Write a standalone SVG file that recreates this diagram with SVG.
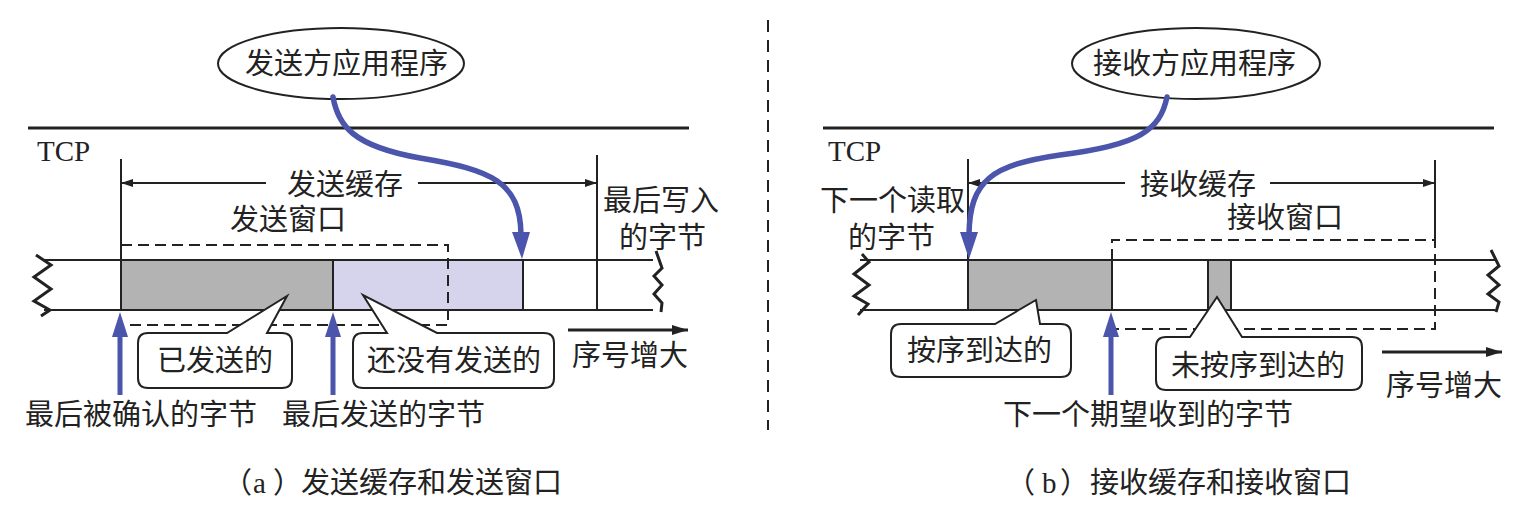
<svg xmlns="http://www.w3.org/2000/svg" width="1525" height="517" viewBox="0 0 1525 517">
<defs>
<style>
text{font-family:"Liberation Serif","Noto Sans CJK SC",serif;font-size:29px;fill:#222}
.ln{stroke:#222;stroke-width:2;fill:none}
.thick{stroke:#222;stroke-width:3;fill:none}
.dash{stroke:#222;stroke-width:2;fill:none;stroke-dasharray:11 6}
.blue{stroke:#4a55ab;stroke-width:5.5;fill:none;stroke-linecap:round}
.bluef{fill:#4a55ab}
.call{fill:#fff;stroke:#222;stroke-width:2}
.zig{stroke:#222;stroke-width:3;fill:none;stroke-linejoin:miter}
</style>
<marker id="ah" viewBox="0 0 12 8" refX="12" refY="4" markerWidth="12" markerHeight="8" markerUnits="userSpaceOnUse" orient="auto"><path d="M0,0 L12,4 L0,8 Z" fill="#222"/></marker>
<marker id="ahb" viewBox="0 0 16 10" refX="16" refY="5" markerWidth="16" markerHeight="10" markerUnits="userSpaceOnUse" orient="auto"><path d="M0,0 L16,5 L0,10 Z" fill="#222"/></marker>
</defs>

<!-- divider -->
<line x1="768" y1="20" x2="768" y2="430" stroke="#222" stroke-width="2" stroke-dasharray="12 8"/>

<!-- ===== Left panel (a) ===== -->
<g id="a-tcp">
<line class="thick" x1="28" y1="128" x2="689" y2="128"/>
<text x="37" y="161">TCP</text>
</g>

<g id="a-bar">
<rect x="121" y="260" width="212" height="50" fill="#b3b3b3"/>
<rect x="333" y="260" width="190" height="50" fill="#d5d4ec"/>
<line class="ln" x1="44" y1="260" x2="653" y2="260"/>
<line class="ln" x1="44" y1="310" x2="653" y2="310"/>
<line class="ln" x1="121" y1="159" x2="121" y2="310"/>
<line class="ln" x1="333" y1="260" x2="333" y2="310"/>
<line class="ln" x1="523" y1="260" x2="523" y2="310"/>
<line class="ln" x1="597" y1="155" x2="597" y2="310"/>
<polyline class="zig" points="36,255 51,265 34,277 51,289 34,301 50,310 41,316"/>
<polyline class="zig" points="656,251 662,268 654,276 662,285 654,294 662,303 661,312"/>
<path class="dash" d="M121,245 H448 V325 H121"/>
</g>

<g id="a-buffer">
<line class="ln" x1="266" y1="183" x2="121" y2="183" marker-end="url(#ah)"/>
<line class="ln" x1="418" y1="183" x2="597" y2="183" marker-end="url(#ah)"/>
<text x="287" y="195">发送缓存</text>
<text x="230" y="230">发送窗口</text>
<text x="603" y="211">最后写入</text>
<text x="619" y="248">的字节</text>
</g>

<g id="a-app">
<ellipse cx="341" cy="63.5" rx="123" ry="35.5" fill="#fff" stroke="#222" stroke-width="2"/>
<text x="245" y="74">发送方应用程序</text>
</g>

<g id="a-sent">
<path class="call" d="M148,333 H227 L287,296 L267,333 H282 Q292,333 292,343 V378 Q292,388 282,388 H148 Q138,388 138,378 V343 Q138,333 148,333 Z"/>
<text x="157" y="371">已发送的</text>
</g>

<g id="a-unsent">
<path class="call" d="M363,333 H387 L363,295 L437,333 H544 Q554,333 554,343 V378 Q554,388 544,388 H363 Q353,388 353,378 V343 Q353,333 363,333 Z"/>
<text x="367" y="371">还没有发送的</text>
</g>

<g id="a-seq">
<line x1="568" y1="330" x2="688" y2="330" stroke="#222" stroke-width="3" marker-end="url(#ahb)"/>
<text x="572" y="366">序号增大</text>
</g>

<g id="a-acked">
<rect x="117.5" y="334" width="5" height="61" class="bluef"/>
<polygon points="112,337 128,337 120,312" class="bluef"/>
<text x="25" y="425">最后被确认的字节</text>
</g>

<g id="a-lastsent">
<rect x="330.5" y="334" width="5" height="61" class="bluef"/>
<polygon points="325,337 341,337 333,312" class="bluef"/>
<text x="282" y="425">最后发送的字节</text>
</g>

<g id="a-caption">
<text y="493"><tspan x="223">（</tspan><tspan x="253">a</tspan><tspan x="273">）</tspan><tspan x="301">发送缓存和发送窗口</tspan></text>
</g>

<!-- ===== Right panel (b) ===== -->
<g id="b-tcp">
<line class="thick" x1="823" y1="128" x2="1494" y2="128"/>
<text x="828" y="161">TCP</text>
</g>

<g id="b-bar">
<rect x="968" y="260" width="144" height="50" fill="#b3b3b3"/>
<rect x="1208" y="260" width="23" height="50" fill="#b3b3b3"/>
<line class="ln" x1="860" y1="260" x2="1495" y2="260"/>
<line class="ln" x1="860" y1="310" x2="1495" y2="310"/>
<line class="ln" x1="968" y1="159" x2="968" y2="310"/>
<line class="ln" x1="1112" y1="260" x2="1112" y2="310"/>
<line class="ln" x1="1208" y1="260" x2="1208" y2="310"/>
<line class="ln" x1="1231" y1="260" x2="1231" y2="310"/>
<line class="ln" x1="1435" y1="160" x2="1435" y2="245"/>
<polyline class="zig" points="862,254 869,262 854,274 869,285 854,296 868,304 858,315"/>
<polyline class="zig" points="1491,250 1499,266 1488,275 1499,285 1488,294 1499,302 1496,312"/>
<path class="dash" d="M1112,260 V240 H1435 V329 H1112"/>
</g>

<g id="b-buffer">
<line class="ln" x1="1125" y1="183" x2="968" y2="183" marker-end="url(#ah)"/>
<line class="ln" x1="1270" y1="183" x2="1435" y2="183" marker-end="url(#ah)"/>
<text x="1140" y="195">接收缓存</text>
<text x="1227" y="228">接收窗口</text>
<text x="820" y="211">下一个读取</text>
<text x="848" y="248">的字节</text>
</g>

<g id="b-app">
<ellipse cx="1196" cy="63.5" rx="124" ry="35.5" fill="#fff" stroke="#222" stroke-width="2"/>
<text x="1093" y="74">接收方应用程序</text>
</g>

<g id="b-inorder">
<path class="call" d="M901,324 H995 L1036,300 L1040,324 H1061 Q1071,324 1071,334 V367 Q1071,377 1061,377 H901 Q891,377 891,367 V334 Q891,324 901,324 Z"/>
<text x="907" y="361">按序到达的</text>
</g>

<g id="b-outorder">
<path class="call" d="M1166,337 H1190 L1217,297 L1242,337 H1352 Q1362,337 1362,347 V380 Q1362,390 1352,390 H1166 Q1156,390 1156,380 V347 Q1156,337 1166,337 Z"/>
<text x="1171" y="376">未按序到达的</text>
</g>

<g id="b-seq">
<line x1="1382" y1="352" x2="1502" y2="352" stroke="#222" stroke-width="3" marker-end="url(#ahb)"/>
<text x="1386" y="396">序号增大</text>
</g>

<g id="b-expected">
<rect x="1108.5" y="334" width="5" height="61" class="bluef"/>
<polygon points="1103,337 1119,337 1111,312" class="bluef"/>
<text x="1003" y="425">下一个期望收到的字节</text>
</g>

<g id="b-caption">
<text y="493"><tspan x="1006">（</tspan><tspan x="1042">b</tspan><tspan x="1060">）</tspan><tspan x="1090">接收缓存和接收窗口</tspan></text>
</g>

<!-- connectors -->
<g id="connectors">
<path class="blue" d="M333,97 C338,125 352,146 420,158 C492,170 520,182 521,234"/>
<polygon class="bluef" points="512,232 530,232 522,259"/>
<path class="blue" d="M1167,97 C1160,130 1140,145 1060,155 C992,165 970,180 969,234"/>
<polygon class="bluef" points="960,232 978,232 969,259"/>
</g>
</svg>
